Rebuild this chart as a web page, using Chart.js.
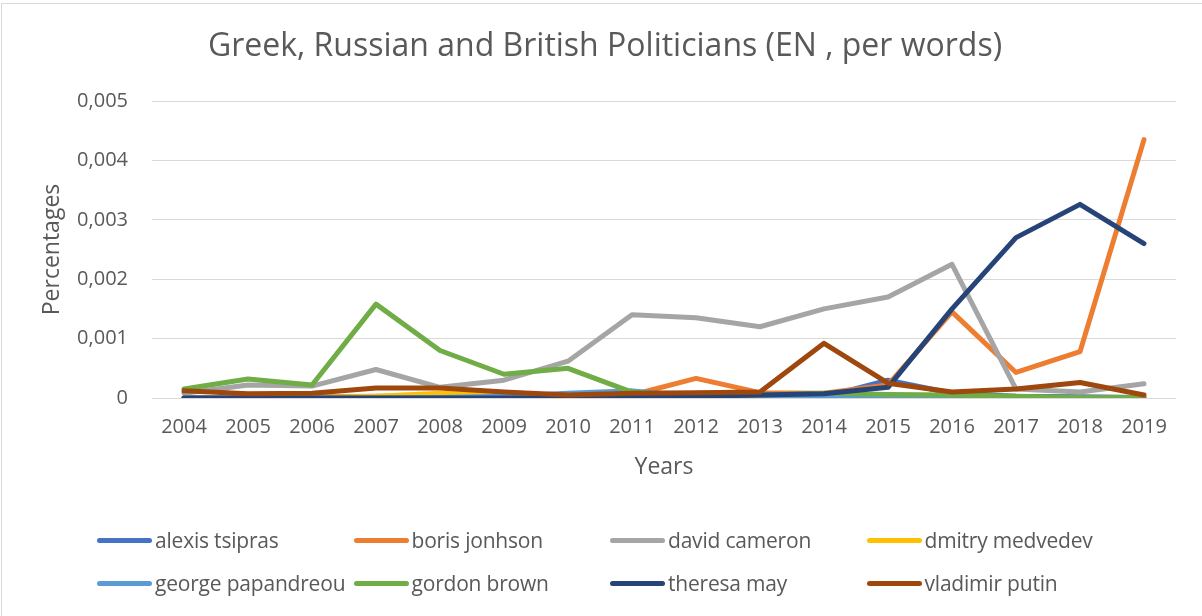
<!DOCTYPE html>
<html>
<head>
<meta charset="utf-8">
<script src="https://cdn.jsdelivr.net/npm/chart.js@4/dist/chart.umd.min.js"></script>
<style>
  html, body { margin: 0; padding: 0; background: #fff; }
  #wrap { position: relative; width: 1202px; height: 616px; overflow: hidden; font-family: "Open Sans", sans-serif; }
  #frameTop { position: absolute; left: 1px; top: 3px; width: 1201px; height: 1px; background: #d9d9d9; }
  #frameLeft { position: absolute; left: 1px; top: 3px; width: 1px; height: 613px; background: #d9d9d9; }
  canvas { position: absolute; left: 0; top: 0; }
  #legend { position: absolute; left: 97px; top: 523px; width: 1040px; display: grid;
            grid-template-columns: repeat(4, 256.5px); grid-auto-rows: 43px; }
  .item { display: flex; align-items: center; height: 34px; color: #595959; font-size: 21px; white-space: nowrap; letter-spacing: -0.2px; }
  .swatch { width: 55px; height: 5px; border-radius: 3px; margin-right: 3px; flex: none; }
</style>
</head>
<body>
<div id="wrap">
  <canvas id="chart" width="1202" height="616"></canvas>
  <div id="frameTop"></div>
  <div id="frameLeft"></div>
  <div id="legend"></div>
</div>
<script>
// Years on the category axis
const years = ['2004','2005','2006','2007','2008','2009','2010','2011','2012','2013','2014','2015','2016','2017','2018','2019'];

// Share of words mentioning each politician, per year
const alexisTsipras     = [0, 0, 0, 0, 0, 0, 0, 0, 0, 0, 0.00002, 0.0003, 0.00008, 0.00003, 0.00002, 0.00001];
const borisJonhson      = [0, 0, 0.00002, 0.00003, 0.00002, 0.00001, 0.00001, 0.00005, 0.00033, 0.00009, 0.00008, 0.00022, 0.00145, 0.00043, 0.00078, 0.00435];
const davidCameron      = [0.00008, 0.00022, 0.0002, 0.00048, 0.00018, 0.0003, 0.00062, 0.0014, 0.00135, 0.0012, 0.0015, 0.0017, 0.00225, 0.00015, 0.0001, 0.00024];
const dmitryMedvedev    = [0, 0, 0.00001, 0.00003, 0.00008, 0.00005, 0.00002, 0.00001, 0, 0, 0, 0, 0, 0, 0, 0];
const georgePapandreou  = [0, 0, 0, 0, 0.00001, 0.00003, 0.00008, 0.00012, 0.00003, 0.00001, 0, 0, 0, 0, 0, 0];
const gordonBrown       = [0.00015, 0.00032, 0.00022, 0.00158, 0.0008, 0.0004, 0.0005, 0.0001, 0.00003, 0.00005, 0.00008, 0.00006, 0.00005, 0.00003, 0.00001, 0.00001];
const theresaMay        = [0, 0, 0, 0, 0, 0, 0, 0.00002, 0.00003, 0.00005, 0.00007, 0.00018, 0.0015, 0.0027, 0.00326, 0.0026];
const vladimirPutin     = [0.00012, 0.00007, 0.00008, 0.00017, 0.00017, 0.0001, 0.00005, 0.00008, 0.00009, 0.0001, 0.00092, 0.00025, 0.0001, 0.00015, 0.00026, 0.00005];

// Value axis ticks
const yTicks = [0, 0.001, 0.002, 0.003, 0.004, 0.005];

const chartTitle = 'Greek, Russian and British Politicians (EN , per words)';
const seriesNames  = ['alexis tsipras', 'boris jonhson', 'david cameron', 'dmitry medvedev', 'george papandreou', 'gordon brown', 'theresa may', 'vladimir putin'];
const seriesValues = [alexisTsipras, borisJonhson, davidCameron, dmitryMedvedev, georgePapandreou, gordonBrown, theresaMay, vladimirPutin];
const seriesColors = ['#4472C4', '#ED7D31', '#A5A5A5', '#FFC000', '#5B9BD5', '#70AD47', '#264478', '#9E480E'];

const textColor = '#595959';
const fontFamily = '"Open Sans", sans-serif';
Chart.defaults.font.family = fontFamily;
Chart.defaults.color = textColor;

const datasets = seriesNames.map((name, i) => ({
  label: name,
  data: seriesValues[i],
  borderColor: seriesColors[i],
  backgroundColor: seriesColors[i],
  borderWidth: 5,
  borderJoinStyle: 'round',
  borderCapStyle: 'round',
  pointRadius: 0,
  pointHoverRadius: 0,
  tension: 0,
  fill: false,
  order: seriesNames.length - i
}));

// Chart heading, centred on the whole frame rather than the plot box
const headingPlugin = {
  id: 'heading',
  afterDraw(chart) {
    const ctx = chart.ctx;
    ctx.save();
    ctx.font = '32px ' + fontFamily;
    ctx.fillStyle = textColor;
    ctx.textAlign = 'center';
    ctx.textBaseline = 'middle';
    ctx.fillText(chartTitle, 605, 47);
    ctx.restore();
  }
};

new Chart(document.getElementById('chart'), {
  type: 'line',
  data: { labels: years, datasets },
  plugins: [headingPlugin],
  options: {
    responsive: false,
    animation: false,
    layout: { padding: { left: 0, right: 26, top: 101, bottom: 135 } },
    plugins: {
      legend: { display: false },
      tooltip: { enabled: false },
      title: { display: false }
    },
    scales: {
      x: {
        type: 'category',
        offset: true,
        grid: { display: false, drawTicks: false },
        border: { display: false },
        ticks: { color: textColor, font: { size: 20 }, padding: 17, maxRotation: 0, autoSkip: false },
        title: { display: true, text: 'Years', color: textColor, font: { size: 23 }, padding: { top: 0, bottom: 0 } },
        afterFit: s => { s.height = 83; }
      },
      y: {
        min: 0,
        max: 0.005,
        afterBuildTicks: s => { s.ticks = yTicks.map(v => ({ value: v })); },
        grid: { color: '#d9d9d9', lineWidth: 1, drawTicks: false },
        border: { display: false },
        ticks: {
          color: textColor,
          font: { size: 20 },
          padding: 24,
          callback: v => v === 0 ? '0' : v.toFixed(3).replace('.', ',')
        },
        title: { display: true, text: 'Percentages', color: textColor, font: { size: 23 }, padding: { top: 39, bottom: 0 } },
        afterFit: s => { s.width = 152; }
      }
    }
  }
});

// Legend laid out in fixed columns, two rows
const legend = document.getElementById('legend');
seriesNames.forEach((name, i) => {
  const item = document.createElement('div');
  item.className = 'item';
  const sw = document.createElement('span');
  sw.className = 'swatch';
  sw.style.background = seriesColors[i];
  const tx = document.createElement('span');
  tx.textContent = name;
  item.appendChild(sw);
  item.appendChild(tx);
  legend.appendChild(item);
});
</script>
</body>
</html>
